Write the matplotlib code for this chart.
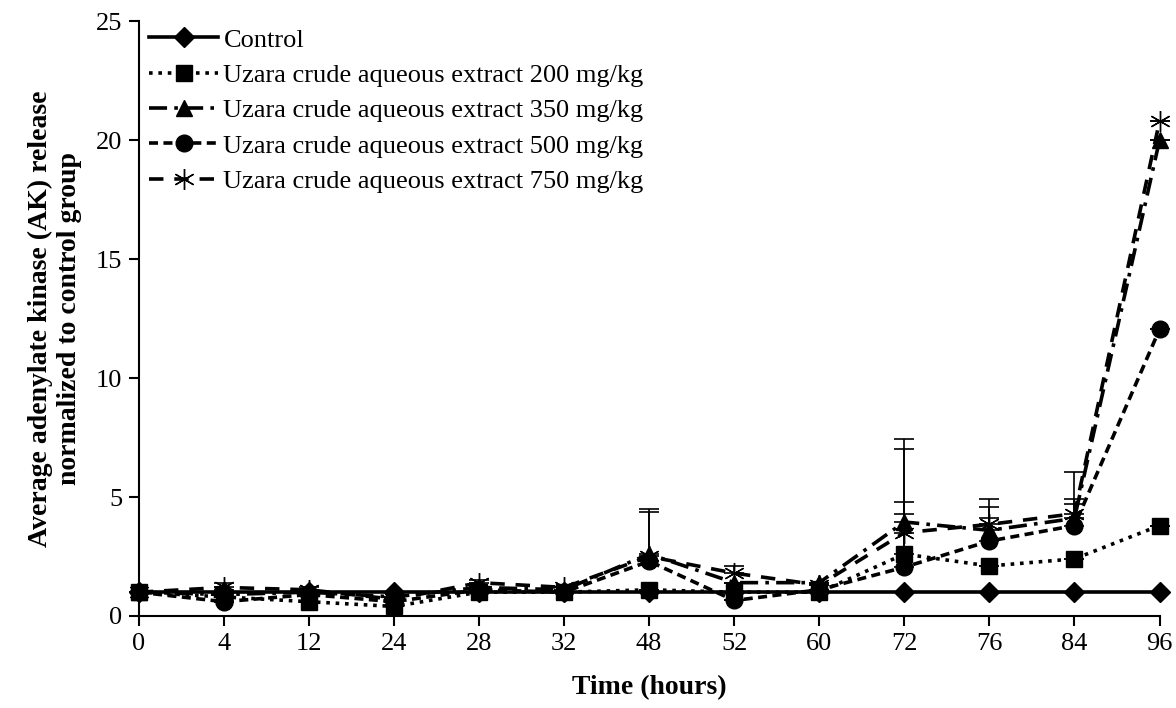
import numpy as np
import matplotlib
matplotlib.use("Agg")
import matplotlib.pyplot as plt

plt.rcParams['font.family'] = ['Liberation Serif', 'DejaVu Serif']

horas = ['0', '4', '12', '24', '28', '32', '48', '52', '60', '72', '76', '84', '96']

control = [1, 1, 1, 1, 1, 1, 1, 1, 1, 1, 1, 1, 1]
dosis_200 = [1.0, 0.8, 0.6, 0.4, 1.0, 1.0, 1.1, 1.0, 1.0, 2.6, 2.1, 2.4, 3.8]
dosis_350 = [1.0, 0.9, 1.0, 0.8, 1.2, 1.1, 2.6, 1.4, 1.4, 3.95, 3.6, 4.1, 20.0]
dosis_500 = [1.0, 0.6, 0.9, 0.6, 1.1, 1.0, 2.3, 0.65, 1.1, 2.05, 3.15, 3.8, 12.05]
dosis_750 = [1.0, 1.2, 1.1, 0.7, 1.4, 1.2, 2.5, 1.8, 1.3, 3.5, 3.85, 4.3, 20.8]

# error superior (solo +)
err_200 = [0, 0, 0, 0, 0, 0, 0, 0, 0, 2.2, 0, 0, 0]
err_350 = [0, 0.2, 0, 0, 0, 0, 1.9, 0, 0, 3.5, 1.0, 0.8, 0]
err_500 = [0, 0, 0, 0, 0, 0, 0, 0, 0, 2.25, 0.95, 0.9, 0]
err_750 = [0, 0.2, 0.1, 0, 0.1, 0, 1.85, 0.3, 0, 3.5, 1.05, 1.75, 0]

etiquetas = ['Control',
             'Uzara crude aqueous extract 200 mg/kg',
             'Uzara crude aqueous extract 350 mg/kg',
             'Uzara crude aqueous extract 500 mg/kg',
             'Uzara crude aqueous extract 750 mg/kg']

x = np.arange(len(horas))

fig = plt.figure(figsize=(11.76, 7.08), dpi=100)
ax = fig.add_axes([0.118, 0.130, 0.868, 0.840])

series = [
    (control, None, 'D', '-', 10),
    (dosis_200, err_200, 's', (0, (1, 1.6)), 12),
    (dosis_350, err_350, '^', (0, (5, 2, 1, 2)), 12),
    (dosis_500, err_500, 'o', (0, (2.5, 1.5)), 12),
    (dosis_750, err_750, (6, 2, 0), (0, (4, 3)), 15),
]

for (vals, err, mk, ls, ms), lab in zip(series, etiquetas):
    ax.plot(x, vals, color='black', linestyle=ls, linewidth=2.6, marker=mk,
            markersize=ms, markeredgewidth=1.0,
            label=lab, clip_on=False, zorder=3)
    if err is not None:
        ax.errorbar(x, vals, yerr=[np.zeros(len(vals)), err], fmt='none',
                    ecolor='black', elinewidth=1.2, capsize=7, capthick=1.2,
                    zorder=2, clip_on=False)

ax.set_xlim(0, 12)
ax.set_ylim(0, 25)
ax.set_xticks(x)
ax.set_xticklabels(horas)
ax.set_yticks([0, 5, 10, 15, 20, 25])
ax.tick_params(axis='both', labelsize=19, direction='out', length=7, width=1.5, pad=5)

for lado in ['top', 'right']:
    ax.spines[lado].set_visible(False)
for lado in ['left', 'bottom']:
    ax.spines[lado].set_linewidth(1.5)

ax.set_xlabel('Time (hours)', fontsize=20, fontweight='bold', labelpad=15)
ax.set_ylabel('Average adenylate kinase (AK) release\nnormalized to control group',
              fontsize=20, fontweight='bold', labelpad=10)

ax.legend(loc='upper left', bbox_to_anchor=(-0.005, 1.015), frameon=False, fontsize=19,
          handlelength=2.6, handletextpad=0.2, labelspacing=0.45, borderaxespad=0.2)

fig.savefig('out.png', dpi=100)
